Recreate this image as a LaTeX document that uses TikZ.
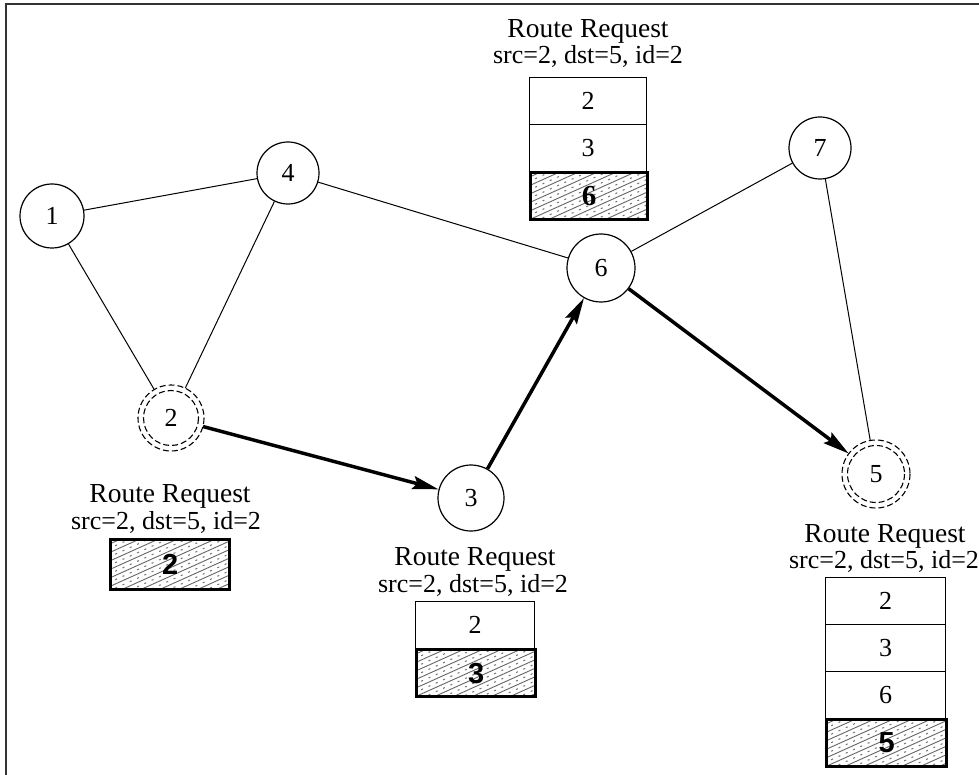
\documentclass[tikz,border=0pt]{standalone}
\usepackage{fontspec}
\setmainfont{Liberation Serif}
\newfontfamily\cellsans{Liberation Sans}
\usetikzlibrary{arrows.meta,calc}

\begin{document}
\begin{tikzpicture}[x=1pt,y=-1pt,
  netnode/.style={circle,draw,line width=1.2pt,inner sep=0pt,
    font=\fontsize{26}{26}\selectfont},
  ghostnode/.style={circle,inner sep=0pt,font=\fontsize{26}{26}\selectfont},
  ring/.style={line width=1.1pt,dash pattern=on 6pt off 3pt},
  link/.style={line width=1pt},
  hop/.style={line width=3.5pt,-{Stealth[length=26pt,width=13pt,inset=4pt]}},
  titleline/.style={anchor=base,inner sep=0pt,font=\fontsize{27.5}{27.5}\selectfont},
  capline/.style={anchor=base,inner sep=0pt,font=\fontsize{26}{26}\selectfont},
  hatchline/.style={black!60,line width=0.9pt},
  hatchdash/.style={black!55,line width=1pt,dash pattern=on 2pt off 6pt},
  cell/.style={draw,line width=1.4pt,rectangle,anchor=north west,inner sep=0pt,
    minimum width=119pt,minimum height=47pt,font=\fontsize{26}{26}\selectfont},
  hotcell/.style={cell,line width=3.2pt,font=\cellsans\bfseries\fontsize{29}{29}\selectfont,
    path picture={
      \foreach \k in {0,...,20}{
        \draw[hatchline] ($(path picture bounding box.north west)+(-10,\k*8.5)$) -- ++(160,-72);
        \draw[hatchdash] ($(path picture bounding box.north west)+(-10,\k*8.5+4.2)$) -- ++(160,-72);
      }}},
]
\useasboundingbox (0,0) rectangle (979,775);
\fill[white] (0,0) rectangle (979,775);

% frame (only the top and left edges fall inside the page)
\draw[line width=2pt,black!80] (5.5,790) -- (5.5,4.5) -- (990,4.5);

% network nodes
\node[netnode,minimum size=64pt] (n1) at (52,216) {1};
\node[netnode,minimum size=62pt] (n4) at (288,173) {4};
\node[netnode,minimum size=66pt] (n3) at (471,498) {3};
\node[netnode,minimum size=68pt] (n6) at (601,268) {6};
\node[netnode,minimum size=62pt] (n7) at (820,148) {7};
\node[ghostnode,minimum size=66pt] (n2) at (171,418) {2};
\node[ghostnode,minimum size=68pt] (n5) at (876,474) {5};

% source and destination drawn with double dashed rings
\draw[ring] (n2.center) circle[radius=33];
\draw[ring] (n2.center) circle[radius=27.5];
\draw[ring] (n5.center) circle[radius=34];
\draw[ring] (n5.center) circle[radius=28.5];

% links
\draw[link] (n1) -- (n4);
\draw[link] (n1) -- (n2);
\draw[link] (n4) -- (n2);
\draw[link] (n4) -- (n6);
\draw[link] (n7) -- (n6);
\draw[link] (n7) -- (n5);

% route request propagation
\draw[hop] (n2) -- (n3);
\draw[hop] (n3) -- (n6);
\draw[hop] (n6) -- (n5);

% route request at node 2
\node[titleline] (c2a) at (170,502) {Route Request};
\node[capline] (c2b) at (166,529) {src=2, dst=5, id=2};
\node[hotcell,minimum height=50pt] (r2a) at (109,538) {2};

% route request at node 3
\node[titleline] (c3a) at (475,565) {Route Request};
\node[capline] (c3b) at (473,592) {src=2, dst=5, id=2};
\node[cell] (r3a) at (415,601) {2};
\node[hotcell] (r3b) at (415,648) {3};

% route request at node 6
\node[titleline] (c6a) at (588,38) {Route Request};
\node[capline] (c6b) at (588,64) {src=2, dst=5, id=2};
\node[cell,minimum width=117pt] (r6a) at (529,77) {2};
\node[cell,minimum width=117pt] (r6b) at (529,124) {3};
\node[hotcell,minimum width=117pt,font=\bfseries\fontsize{29}{29}\selectfont] (r6c) at (529,171) {6};

% route request at node 5
\node[titleline] (c5a) at (885,542) {Route Request};
\node[capline] (c5b) at (884,568) {src=2, dst=5, id=2};
\node[cell,minimum width=120pt] (r5a) at (825,577) {2};
\node[cell,minimum width=120pt] (r5b) at (825,624) {3};
\node[cell,minimum width=120pt] (r5c) at (825,671) {6};
\node[hotcell,minimum width=120pt] (r5d) at (825,718) {5};
\end{tikzpicture}
\end{document}
